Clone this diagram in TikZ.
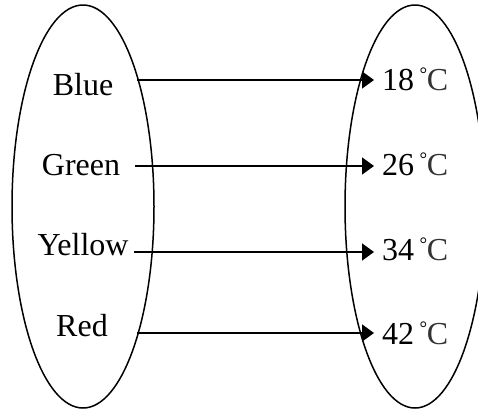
\documentclass[tikz,border=0pt]{standalone}
\usepackage{fontspec}
\setmainfont{Liberation Serif}
\usetikzlibrary{arrows.meta}
\newcommand{\degC}{\hspace{5.5pt}\raisebox{9.5pt}{\fontsize{19pt}{19pt}\selectfont °}\hspace{-0.5pt}{\color{black!80}C}}
\begin{document}
\begin{tikzpicture}[x=1pt,y=-1pt,
  lbl/.style={font=\fontsize{32pt}{32pt}\selectfont, anchor=base, inner sep=0pt},
  setshape/.style={draw, line width=1.5pt},
  maparrow/.style={line width=1.7pt, -{Triangle[length=12pt,width=17pt]}}]
\clip (0,0) rectangle (478,413);
\fill[white] (0,0) rectangle (478,413);
\draw[setshape] (83,206.5) ellipse [x radius=71, y radius=201.5];
\draw[setshape] (415,206.5) ellipse [x radius=70, y radius=201.5];
\node[lbl] (blue) at (83,95) {Blue};
\node[lbl] (green) at (81,175) {Green};
\node[lbl] (yellow) at (83,255) {Yellow};
\node[lbl] (red) at (82,336) {Red};
\node[lbl, anchor=base west] (t18) at (382,90) {18\degC};
\node[lbl, anchor=base west] (t26) at (382,175) {26\degC};
\node[lbl, anchor=base west] (t34) at (382,260) {34\degC};
\node[lbl, anchor=base west] (t42) at (382,344) {42\degC};
\coordinate (s1) at (137,80); \coordinate (e1) at (374,80);
\coordinate (s2) at (135,166); \coordinate (e2) at (374,166);
\coordinate (s3) at (134,252); \coordinate (e3) at (374,252);
\coordinate (s4) at (137,333); \coordinate (e4) at (374,333);
\draw[maparrow] (s1) -- (e1);
\draw[maparrow] (s2) -- (e2);
\draw[maparrow] (s3) -- (e3);
\draw[maparrow] (s4) -- (e4);
\end{tikzpicture}
\end{document}
